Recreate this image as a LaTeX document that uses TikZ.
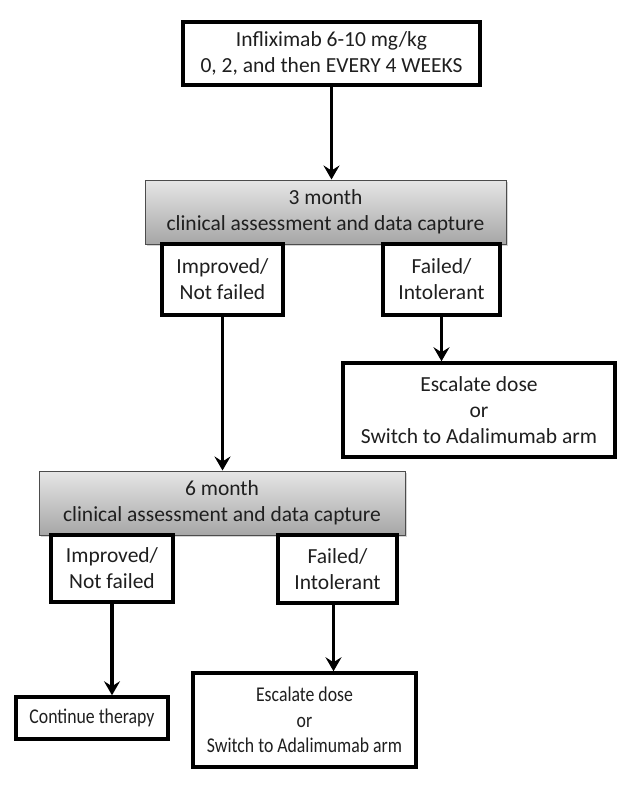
\documentclass[tikz,border=0pt]{standalone}
\usepackage{fontspec}
\setmainfont{Carlito}
\newfontfamily\narrowfont[FakeStretch=0.845]{Carlito}
\usetikzlibrary{arrows.meta,shadows}
\begin{document}
\begin{tikzpicture}[x=1pt,y=-1pt,
  txt/.style={font=\fontsize{21.5}{26}\selectfont, align=center, text=black!88},
  smalltxt/.style={font=\narrowfont\fontsize{21}{25.5}\selectfont},
  whitebox/.style={txt, draw=black, line width=3.5pt, fill=white, inner sep=0pt},
  graybox/.style={txt, draw=black!70, line width=1pt, inner sep=0pt,
    top color=black!10, bottom color=black!35,
    drop shadow={opacity=0.35, shadow xshift=2pt, shadow yshift=-2pt}},
  arr/.style={line width=3.5pt, -{Stealth[length=14pt,width=16pt,inset=5pt]}}]
\useasboundingbox (0,0) rectangle (633,789);

% start of treatment
\node[whitebox, minimum width=297pt, minimum height=63pt] (start) at (331.5,53.5)
  {Infliximab 6-10 mg/kg\\0, 2, and then EVERY 4 WEEKS};

% three-month review and its outcomes
\node[graybox, minimum width=361pt, minimum height=64pt] (m3) at (325.5,212)
  {3 month\\clinical assessment and data capture};
\node[whitebox, minimum width=121pt, minimum height=71pt] (imp3) at (222.5,279.5)
  {Improved/\\Not failed};
\node[whitebox, minimum width=117pt, minimum height=71pt] (fail3) at (441.5,279.5)
  {Failed/\\Intolerant};
\node[whitebox, minimum width=272pt, minimum height=94pt] (esc3) at (479,410)
  {Escalate dose\\or\\Switch to Adalimumab arm};

% six-month review and its outcomes
\node[graybox, minimum width=366pt, minimum height=64pt] (m6) at (222,503)
  {6 month\\clinical assessment and data capture};
\node[whitebox, minimum width=122pt, minimum height=67pt] (imp6) at (112,568.5)
  {Improved/\\Not failed};
\node[whitebox, minimum width=119pt, minimum height=68pt] (fail6) at (337.5,569)
  {Failed/\\Intolerant};
\node[whitebox, smalltxt, minimum width=152pt, minimum height=42pt] (cont) at (92,718)
  {Continue therapy};
\node[whitebox, smalltxt, minimum width=223pt, minimum height=94pt] (esc6) at (304.5,720)
  {Escalate dose\\or\\Switch to Adalimumab arm};

% connectors
\draw[arr] (start.south) -- (start.south |- m3.north);
\draw[arr] (imp3.south) -- (imp3.south |- m6.north);
\draw[arr] (fail3.south) -- (fail3.south |- esc3.north);
\draw[arr] ([xshift=-4pt]fail6.south) -- ([xshift=-4pt]fail6.south |- esc6.north);
\draw[arr] (imp6.south) -- (imp6.south |- cont.north);
\end{tikzpicture}
\end{document}
